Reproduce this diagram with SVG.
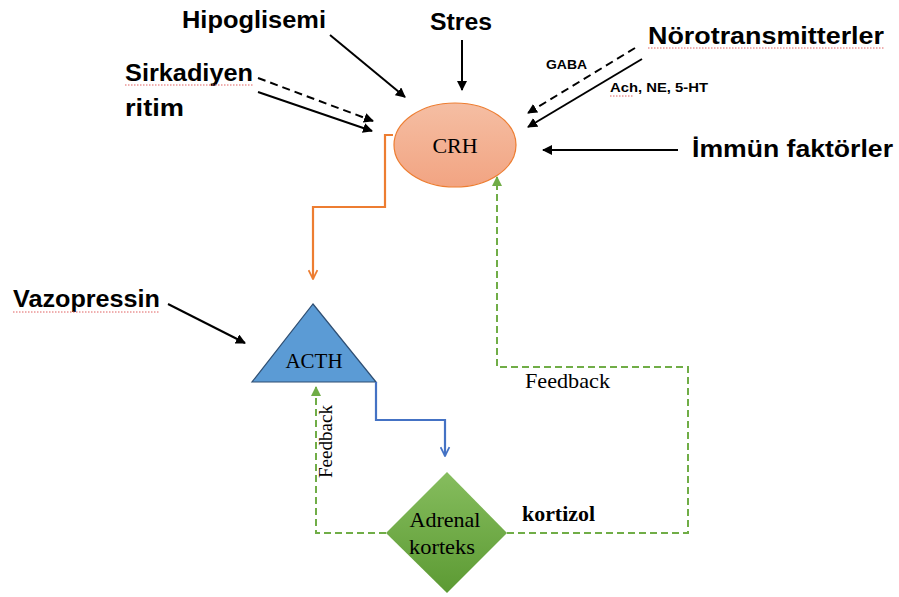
<svg xmlns="http://www.w3.org/2000/svg" width="899" height="597" viewBox="0 0 899 597">
  <defs>
    <linearGradient id="gCrh" x1="0" y1="0" x2="0" y2="1">
      <stop offset="0" stop-color="#f5bea3"/>
      <stop offset="1" stop-color="#f2a482"/>
    </linearGradient>
    <linearGradient id="gAdr" x1="0" y1="0" x2="0" y2="1">
      <stop offset="0" stop-color="#86bd5e"/>
      <stop offset="1" stop-color="#5c9a33"/>
    </linearGradient>
    <marker id="ah" viewBox="0 0 10 10" refX="9" refY="5" markerWidth="5" markerHeight="5" orient="auto" markerUnits="strokeWidth">
      <path d="M0,0 L10,5 L0,10 z" fill="#000"/>
    </marker>
    <marker id="ahG" viewBox="0 0 10 10" refX="9" refY="5" markerWidth="5" markerHeight="5" orient="auto" markerUnits="strokeWidth">
      <path d="M0,0 L10,5 L0,10 z" fill="#70ad47"/>
    </marker>
    <marker id="chO" viewBox="0 0 10 10" refX="9" refY="5" markerWidth="5" markerHeight="5" orient="auto" markerUnits="strokeWidth">
      <path d="M1,1 L9,5 L1,9" fill="none" stroke="#ed7d31" stroke-width="1.6"/>
    </marker>
    <marker id="chB" viewBox="0 0 10 10" refX="9" refY="5" markerWidth="5" markerHeight="5" orient="auto" markerUnits="strokeWidth">
      <path d="M1,1 L9,5 L1,9" fill="none" stroke="#4472c4" stroke-width="1.6"/>
    </marker>
  </defs>
  <style>
    .lbl { font-family: "Liberation Sans", Arial, sans-serif; font-weight: bold; font-size: 23px; fill: #000; }
    .sm { font-family: "Liberation Sans", Arial, sans-serif; font-weight: bold; font-size: 13px; fill: #000; }
    .ser { font-family: "Liberation Serif", "Times New Roman", serif; fill: #000; }
    .in { stroke: #000; stroke-width: 2; fill: none; marker-end: url(#ah); }
    .dash { stroke-dasharray: 8 5; }
    .fb { stroke: #70ad47; stroke-width: 2; fill: none; stroke-dasharray: 7 4; }
    .spell { stroke: #e06060; stroke-width: 1; fill: none; stroke-dasharray: 1.5 1.5; }
  </style>

  <rect width="899" height="597" fill="#fff"/>

  <!-- input labels -->
  <g id="hipoglisemi"><text class="lbl" x="182" y="28" textLength="144" lengthAdjust="spacingAndGlyphs">Hipoglisemi</text></g>
  <g id="stres"><text class="lbl" x="430" y="30" textLength="62" lengthAdjust="spacingAndGlyphs">Stres</text></g>
  <g id="norotransmitterler">
    <text class="lbl" x="648" y="44" textLength="236" lengthAdjust="spacingAndGlyphs">Nörotransmitterler</text>
    <path class="spell" d="M648,48 H884"/>
  </g>
  <g id="sirkadiyen">
    <text class="lbl" x="125" y="81" textLength="128" lengthAdjust="spacingAndGlyphs">Sirkadiyen</text>
    <text class="lbl" x="125" y="116" textLength="59" lengthAdjust="spacingAndGlyphs">ritim</text>
    <path class="spell" d="M125,85 H253"/>
  </g>
  <g id="immun"><text class="lbl" x="692" y="157" textLength="201" lengthAdjust="spacingAndGlyphs">İmmün faktörler</text></g>
  <g id="vazopressin">
    <text class="lbl" x="13" y="307" textLength="147" lengthAdjust="spacingAndGlyphs">Vazopressin</text>
    <path class="spell" d="M13,312 H160"/>
  </g>
  <g id="gaba"><text class="sm" x="546" y="69" textLength="41" lengthAdjust="spacingAndGlyphs">GABA</text></g>
  <g id="ach">
    <text class="sm" x="610" y="92" textLength="98" lengthAdjust="spacingAndGlyphs">Ach, NE, 5-HT</text>
    <path class="spell" d="M610,96 H634"/>
  </g>

  <!-- CRH -->
  <g id="crh">
    <ellipse cx="455" cy="145" rx="61" ry="42" fill="url(#gCrh)" stroke="#ed7d31" stroke-width="1.2"/>
    <text class="ser" x="455" y="153" font-size="22" text-anchor="middle">CRH</text>
  </g>

  <!-- ACTH -->
  <g id="acth">
    <path d="M313,304 L376,382 L252,382 Z" fill="#5b9bd5" stroke="#2f4f73" stroke-width="1.2"/>
    <text class="ser" x="314" y="368" font-size="21" text-anchor="middle">ACTH</text>
  </g>

  <!-- Adrenal cortex -->
  <g id="adrenal">
    <path d="M447,472 L507,533 L447,593 L386,533 Z" fill="url(#gAdr)"/>
    <text class="ser" x="445" y="527" font-size="22" text-anchor="middle" textLength="71" lengthAdjust="spacingAndGlyphs">Adrenal</text>
    <text class="ser" x="442" y="554" font-size="22" text-anchor="middle" textLength="66" lengthAdjust="spacingAndGlyphs">korteks</text>
  </g>

  <!-- other labels -->
  <g id="labels">
    <text class="ser" x="522" y="521" font-size="20" font-weight="bold" textLength="73" lengthAdjust="spacingAndGlyphs">kortizol</text>
    <text class="ser" x="525" y="388" font-size="21" textLength="85" lengthAdjust="spacingAndGlyphs">Feedback</text>
    <text class="ser" transform="translate(332,478) rotate(-90)" x="0" y="0" font-size="19" textLength="73" lengthAdjust="spacingAndGlyphs">Feedback</text>
  </g>

  <!-- connectors -->
  <g id="connectors">
    <line class="in" x1="330" y1="35" x2="405" y2="97"/>
    <line class="in dash" x1="258" y1="78" x2="373" y2="121"/>
    <line class="in" x1="258" y1="92" x2="372" y2="131"/>
    <line class="in" x1="462" y1="40" x2="462" y2="90"/>
    <line class="in dash" x1="635" y1="48" x2="528" y2="113"/>
    <line class="in" x1="642" y1="59" x2="528" y2="127"/>
    <line class="in" x1="678" y1="150" x2="543" y2="150"/>
    <line class="in" x1="168" y1="304" x2="245" y2="343" stroke-width="1.6"/>

    <path d="M393,135 H385 V207 H313 V279" fill="none" stroke="#ed7d31" stroke-width="2.2" marker-end="url(#chO)"/>
    <path d="M376,382 V420 H445 V456" fill="none" stroke="#4472c4" stroke-width="2.2" marker-end="url(#chB)"/>

    <path class="fb" d="M386,533 H316 V387" marker-end="url(#ahG)"/>
    <path class="fb" d="M507,533 H688 V367 H497 V177" marker-end="url(#ahG)"/>
  </g>
</svg>
